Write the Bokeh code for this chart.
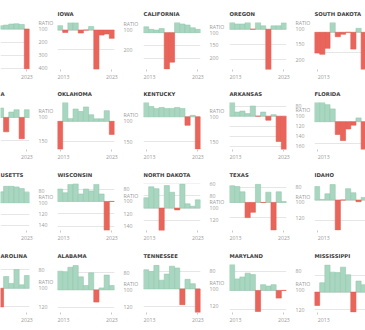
from bokeh.plotting import figure
from bokeh.layouts import gridplot
from bokeh.models import Range1d, FixedTicker, LinearAxis, Grid
from bokeh.embed import file_html
from bokeh.resources import INLINE

N = None
YEARS = list(range(2013, 2024))
X_TICKS = [2013, 2023]

# ---- data (ratio per year; None = year outside the visible crop) ----
R1_LEFT = [N, N, N, N, N, 75, 70, 62, 60, 65, 405]
IOWA = [78, 112, 63, 63, 115, 100, 82, 298, 125, 120, 142]
CALIFORNIA = [77, 87, 90, 84, 243, 216, 60, 66, 70, 81, 87]
OREGON = [78, 83, 83, 78, 100, 78, 89, 233, 89, 89, 79]
SOUTH_DAKOTA = [152, 155, 140, 75, 111, 105, 100, 142, 90, 193, N]

R2_LEFT = [N, N, N, N, N, 80, 131, 88.6, 83.6, 145.7, 83.6]
OKLAHOMA = [168.5, 54, 93.5, 70, 76, 65, 84, 94, 94, 74, 132]
KENTUCKY = [71, 79, 83, 81, 83, 83, 81, 83, 117, 97, 165]
ARKANSAS = [73, 92, 90, 95, 80, 100, 92, 108, 97, 150, 166]
FLORIDA = [55, 55, 60, 70, 130, 144, 117, 108, 91, 165, N]

MASSACHUSETTS = [N, N, N, N, N, 81, 71, 71, 72, 75, 82]
WISCONSIN = [80, 86, 72.5, 71.4, 88, 80, 83, 72.5, 88, 146.5, 100]
NORTH_DAKOTA = [83, 65, 68, 137, 63, 74, 103, 60.5, 93, 97, 86.5]
TEXAS = [78, 79, 86, 120, 113, 76, 100, 86.5, 136.5, 86, 98.7]
IDAHO = [87, 99.4, 94, 85, 129, 100, 89, 93, 101.6, 97.5, N]

R4_LEFT = [N, N, N, N, N, 120, 87.5, 95, 80, 96.4, 86.4]
ALABAMA = [78.5, 79, 74, 72, 85, 95, 80.4, 114, 97.7, 83, 95]
TENNESSEE = [78, 80, 73, 90, 83, 74, 76, 118, 89, 94, 127]
MARYLAND = [73, 88, 86, 82, 83.5, 122, 94, 95.5, 94, 108, 100]
MISSISSIPPI = [115.7, 89, 68, 76.5, 77, 70.6, 79.6, 123.5, 87, 91.4, N]

TITLES = [
    ["", "IOWA", "CALIFORNIA", "OREGON", "SOUTH DAKOTA"],
    ["A", "OKLAHOMA", "KENTUCKY", "ARKANSAS", "FLORIDA"],
    ["USETTS", "WISCONSIN", "NORTH DAKOTA", "TEXAS", "IDAHO"],
    ["AROLINA", "ALABAMA", "TENNESSEE", "MARYLAND", "MISSISSIPPI"],
]
SERIES = [
    [R1_LEFT, IOWA, CALIFORNIA, OREGON, SOUTH_DAKOTA],
    [R2_LEFT, OKLAHOMA, KENTUCKY, ARKANSAS, FLORIDA],
    [MASSACHUSETTS, WISCONSIN, NORTH_DAKOTA, TEXAS, IDAHO],
    [R4_LEFT, ALABAMA, TENNESSEE, MARYLAND, MISSISSIPPI],
]
# y extent [top value, bottom value] (axis runs downward)
Y_EXTENT = [
    [(50, 411), (62, 299), (60, 245), (78, 232), (75.5, 193)],
    [(68, 169), (54, 169), (71, 166), (73, 166), (55, 165)],
    [(66, 149), (71, 147), (59.5, 137), (75, 137), (84, 129.5)],
    [(74.6, 126), (70.8, 126), (72, 127), (73, 123), (67.5, 124)],
]
Y_TICKS = [
    [[100, 200, 300, 400], [100, 200], [100, 150, 200], [100, 150, 200], [100, 150]],
    [[100, 150], [100, 150], [100, 150], [80, 100, 120, 140, 160], [100, 150]],
    [[80, 100, 120, 140], [80, 100, 120, 140], [60, 80, 100, 120], [80, 100, 120], [80, 100, 120]],
    [[80, 100, 120], [80, 100, 120], [80, 100, 120], [80, 100, 120], [80, 100, 120]],
]
BASE = 100
UNIT_LABEL = "RATIO"

# ---- layout / style ----
FIG_W = [57, 86, 86, 85, 51]
FRAME_W = [29, 57, 57, 57, 51]
ROW_H = [81, 80, 81, 88]
FRAME_TOP = [22, 21, 22, 22]
FRAME_H = [47, 47, 48, 48]
PX_PER_YEAR = 57 / 11
RATIO_LIFT_PX = 6

GREEN = "#a9d6c0"
GREEN_EDGE = "#93c9ae"
RED = "#e9655b"
RED_EDGE = "#e05d53"
GRID = "#e6e6e6"
TICK_TEXT = "#9b9b9b"
TITLE_TEXT = "#404040"


def panel(r, c):
    vals = SERIES[r][c]
    top_v, bot_v = Y_EXTENT[r][c]
    ticks = Y_TICKS[r][c]
    if c == 0:
        x1 = 2023.5
        x0 = x1 - FRAME_W[c] / PX_PER_YEAR
    elif c == 4:
        x0 = 2012.5
        x1 = x0 + FRAME_W[c] / PX_PER_YEAR
    else:
        x0, x1 = 2012.5, 2023.5
    p = figure(width=FIG_W[c], height=ROW_H[r],
               x_range=Range1d(x0, x1), y_range=Range1d(bot_v, top_v),
               output_backend="svg", toolbar_location=None,
               x_axis_location=None, y_axis_location=None,
               min_border_left=0, min_border_right=FIG_W[c] - FRAME_W[c],
               min_border_top=FRAME_TOP[r],
               min_border_bottom=ROW_H[r] - FRAME_TOP[r] - FRAME_H[r],
               outline_line_color=None, background_fill_color="white",
               border_fill_color="white", title=TITLES[r][c])
    p.center = []
    p.title.text_font = "DejaVu Sans"
    p.title.text_font_size = "5.3px"
    p.title.text_font_style = "bold"
    p.title.text_color = TITLE_TEXT
    p.title.align = "left"
    p.title.offset = 0
    p.title.standoff = 11

    p.add_layout(Grid(dimension=1, ticker=FixedTicker(ticks=ticks),
                      grid_line_color=GRID, grid_line_width=1), "center")

    xa = LinearAxis(ticker=FixedTicker(ticks=X_TICKS), axis_line_color=None,
                    major_tick_line_color="#c8c8c8", major_tick_out=2, major_tick_in=0,
                    minor_tick_line_color=None, major_label_standoff=3,
                    major_label_text_font="Open Sans", major_label_text_font_size="5.2px",
                    major_label_text_color=TICK_TEXT)
    p.add_layout(xa, "below")
    if c < 4:
        units_per_px = (bot_v - top_v) / FRAME_H[r]
        ratio_pos = round(BASE - RATIO_LIFT_PX * units_per_px, 3)
        ya = LinearAxis(ticker=FixedTicker(ticks=sorted(ticks + [ratio_pos])),
                        major_label_overrides={ratio_pos: UNIT_LABEL},
                        axis_line_color=None,
                        major_tick_line_color=None, minor_tick_line_color=None,
                        major_label_standoff=3, major_label_text_font="Open Sans",
                        major_label_text_font_size="5.2px", major_label_text_color=TICK_TEXT)
        p.add_layout(ya, "right")

    gx = [y for y, v in zip(YEARS, vals) if v is not None and v < BASE]
    gv = [v for v in vals if v is not None and v < BASE]
    rx = [y for y, v in zip(YEARS, vals) if v is not None and v >= BASE]
    rv = [v for v in vals if v is not None and v >= BASE]
    p.vbar(x=gx, top=gv, bottom=BASE, width=1, fill_color=GREEN,
           line_color=GREEN_EDGE, line_width=0.6)
    p.vbar(x=rx, top=rv, bottom=BASE, width=1, fill_color=RED,
           line_color=RED_EDGE, line_width=0.6)
    return p


rows = [[panel(r, c) for c in range(5)] for r in range(4)]
grid = gridplot(rows, toolbar_location=None)

open("out.html", "w").write(file_html(grid, INLINE))
